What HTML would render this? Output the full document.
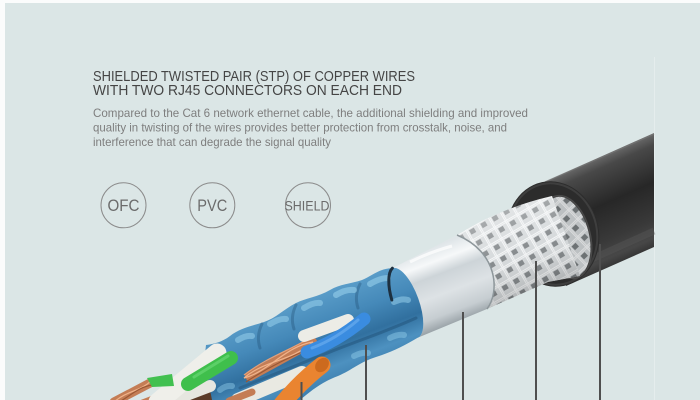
<!DOCTYPE html>
<html><head><meta charset="utf-8">
<style>
html,body{margin:0;padding:0;background:#dbe6e6;}
svg{display:block;}
</style></head>
<body>
<svg width="700" height="400" viewBox="0 0 700 400" xmlns="http://www.w3.org/2000/svg">
<defs>
 <linearGradient id="jg" gradientUnits="userSpaceOnUse" x1="596" y1="158" x2="642" y2="262">
  <stop offset="0" stop-color="#6a6a6a"/>
  <stop offset="0.1" stop-color="#484848"/>
  <stop offset="0.4" stop-color="#272727"/>
  <stop offset="0.7" stop-color="#393939"/>
  <stop offset="0.85" stop-color="#474747"/>
  <stop offset="1" stop-color="#242424"/>
 </linearGradient>
 <pattern id="bp" patternUnits="userSpaceOnUse" width="13" height="13" patternTransform="rotate(-30)">
  <rect width="13" height="13" fill="#d2d6d8"/>
  <rect x="5" y="5" width="5.5" height="5" fill="#7a7f82"/>
  <path d="M0 2H13M2 0V13M0 3.6H13M3.6 0V13" stroke="#f3f5f6" stroke-width="1"/>
 </pattern>
 <linearGradient id="bshade" gradientUnits="userSpaceOnUse" x1="505" y1="212" x2="540" y2="300">
  <stop offset="0" stop-color="#fff" stop-opacity="0.35"/>
  <stop offset="0.45" stop-color="#fff" stop-opacity="0.1"/>
  <stop offset="1" stop-color="#000" stop-opacity="0.25"/>
 </linearGradient>
 <linearGradient id="fg" gradientUnits="userSpaceOnUse" x1="425" y1="250" x2="453" y2="324">
  <stop offset="0" stop-color="#dfe5e8"/>
  <stop offset="0.18" stop-color="#f6f8f9"/>
  <stop offset="0.35" stop-color="#cdd4d8"/>
  <stop offset="0.6" stop-color="#dde2e5"/>
  <stop offset="0.85" stop-color="#c6cdd1"/>
  <stop offset="1" stop-color="#9aa3a8"/>
 </linearGradient>
 <linearGradient id="blg" gradientUnits="userSpaceOnUse" x1="300" y1="300" x2="335" y2="392">
  <stop offset="0" stop-color="#5a9dc9"/>
  <stop offset="0.3" stop-color="#4589b9"/>
  <stop offset="0.55" stop-color="#31709f"/>
  <stop offset="0.75" stop-color="#4d91c0"/>
  <stop offset="1" stop-color="#3778a8"/>
 </linearGradient>
</defs>

<!-- background & borders -->
<rect width="700" height="400" fill="#dbe6e6"/>
<rect x="0" y="0" width="700" height="3" fill="#fbfcfc"/>
<rect x="0" y="0" width="5" height="400" fill="#fbfcfc"/>
<line x1="654.5" y1="57" x2="654.5" y2="400" stroke="#e5eded" stroke-width="1"/>

<!-- text -->
<g font-family="'Liberation Sans', Arial, sans-serif">
 <text x="93" y="81" font-size="15" fill="#454545" textLength="322" lengthAdjust="spacingAndGlyphs">SHIELDED TWISTED PAIR (STP) OF COPPER WIRES</text>
 <text x="93" y="95" font-size="15" fill="#454545" textLength="309" lengthAdjust="spacingAndGlyphs">WITH TWO RJ45 CONNECTORS ON EACH END</text>
 <text x="93" y="117" font-size="12" fill="#7e7e7e" textLength="435" lengthAdjust="spacingAndGlyphs">Compared to the Cat 6 network ethernet cable, the additional shielding and improved</text>
 <text x="93" y="131.5" font-size="12" fill="#7e7e7e" textLength="414" lengthAdjust="spacingAndGlyphs">quality in twisting of the wires provides better protection from crosstalk, noise, and</text>
 <text x="93" y="146" font-size="12" fill="#7e7e7e" textLength="238" lengthAdjust="spacingAndGlyphs">interference that can degrade the signal quality</text>

 <circle cx="123.5" cy="205.3" r="22.5" fill="none" stroke="#8c8c8c" stroke-width="1"/>
 <circle cx="212.3" cy="205.3" r="22.5" fill="none" stroke="#8c8c8c" stroke-width="1"/>
 <circle cx="308" cy="205.3" r="22.5" fill="none" stroke="#8c8c8c" stroke-width="1"/>
 <text x="123.5" y="211" font-size="17" fill="#6b6b6b" text-anchor="middle" textLength="32" lengthAdjust="spacingAndGlyphs">OFC</text>
 <text x="212.3" y="211" font-size="17" fill="#6b6b6b" text-anchor="middle" textLength="30" lengthAdjust="spacingAndGlyphs">PVC</text>
 <text x="307" y="210.7" font-size="14" fill="#6b6b6b" text-anchor="middle" textLength="45" lengthAdjust="spacingAndGlyphs">SHIELD</text>
</g>

<!-- jacket -->
<path d="M540,184 L654,133 L654,247 L566,286 Z" fill="url(#jg)"/>
<path d="M545,182 L654,134" stroke="#777" stroke-width="1.5" opacity="0.7"/>
<path d="M585,262 L654,231" stroke="#595959" stroke-width="7" opacity="0.4"/>
<ellipse cx="553" cy="234" rx="46" ry="53" transform="rotate(-12 553 234)" fill="#2c2c2c"/>
<ellipse cx="553" cy="234" rx="44" ry="51" transform="rotate(-12 553 234)" fill="none" stroke="#3e3e3e" stroke-width="2"/>
<ellipse cx="566" cy="237" rx="24" ry="42" transform="rotate(-14 566 237)" fill="url(#bp)" stroke="#4a4a4a" stroke-width="2"/>
<ellipse cx="566" cy="237" rx="24" ry="42" transform="rotate(-14 566 237)" fill="#000" opacity="0.1"/>

<!-- braid -->
<path d="M457,235 Q500,208 552,196 L580,276 L548,282 L487,309 C500,292 498,252 457,235 Z" fill="url(#bp)"/>
<path d="M457,235 Q500,208 552,196 L580,276 L548,282 L487,309 C500,292 498,252 457,235 Z" fill="url(#bshade)"/>

<!-- foil -->
<path d="M392.35,268.2 L457,235 C498,252 500,292 487,309 L417.65,337.8 A14 37 -20 0 0 392.35,268.2 Z" fill="url(#fg)"/>
<path d="M457,235 C498,252 500,292 487,309" fill="none" stroke="#8e979b" stroke-width="1.5"/>
<path d="M410,262 Q430,252 452,246" stroke="#ffffff" stroke-width="3" opacity="0.7" fill="none"/>

<!-- blue twisted pairs -->
<path d="M392.35,268.2 C380,268 372,276 362,280 C350,284 340,284 330,290 C318,297 306,298 296,303 C284,309 276,318 264,322 C252,326 240,328 230,336 C222,342 214,344 206,345 L203,372 L209,400 L300,400 C312,390 322,382 338,376 C352,370 360,362 376,357 C392,352 404,346 417.65,337.8 A14 37 -20 0 0 392.35,268.2 Z" fill="url(#blg)"/>
<g fill="none" stroke-linecap="round">
 <path d="M416,318 C390,330 360,340 330,352 C300,364 270,376 240,388" stroke="#1f4e74" stroke-width="3" opacity="0.45"/>
 <path d="M360,284 q-6,12 -2,24" stroke="#1f4e74" stroke-width="3" opacity="0.35"/>
 <path d="M296,305 q-6,12 -2,24" stroke="#1f4e74" stroke-width="3" opacity="0.35"/>
 <path d="M262,324 q-6,12 -2,24" stroke="#1f4e74" stroke-width="3" opacity="0.35"/>
 <path d="M370,284 q10,-6 18,-6" stroke="#9dd5ef" stroke-width="6" opacity="0.55"/>
 <path d="M336,295 q10,-6 18,-5" stroke="#9dd5ef" stroke-width="6" opacity="0.55"/>
 <path d="M304,308 q10,-6 16,-5" stroke="#9dd5ef" stroke-width="6" opacity="0.5"/>
 <path d="M270,324 q10,-6 16,-5" stroke="#9dd5ef" stroke-width="6" opacity="0.5"/>
 <path d="M238,340 q8,-5 14,-4" stroke="#9dd5ef" stroke-width="6" opacity="0.5"/>
 <path d="M394,302 q8,-4 14,-2" stroke="#9dd5ef" stroke-width="6" opacity="0.5"/>
 <path d="M390,338 q8,-4 14,-3" stroke="#92cfeb" stroke-width="6" opacity="0.45"/>
 <path d="M354,356 q8,-4 14,-3" stroke="#92cfeb" stroke-width="6" opacity="0.45"/>
 <path d="M222,362 q6,-5 12,-4" stroke="#92cfeb" stroke-width="6" opacity="0.45"/>
 <path d="M220,390 q6,-5 12,-4" stroke="#92cfeb" stroke-width="6" opacity="0.45"/>
 <path d="M392.35,268.2 A14 37 -20 0 0 391.8,300" stroke="#1d3040" stroke-width="3"/>
</g>

<!-- blue/white pair -->
<path d="M250,376 L312,342" stroke="#c47d55" stroke-width="10" stroke-linecap="round" fill="none"/>
<g fill="none" stroke-width="1.2">
 <path d="M244,378 C265,360 290,362 313,342" stroke="#f0b38a"/>
 <path d="M244,378 C268,372 286,346 313,342" stroke="#f0b38a"/>
 <path d="M246,382 C270,366 292,356 314,347" stroke="#9a5733"/>
 <path d="M244,375 C266,358 290,350 310,338" stroke="#e6a078"/>
</g>
<path d="M304,336 L348,320" stroke="#ecece6" stroke-width="12" stroke-linecap="round"/>
<path d="M307,352 Q336,342 364,319" stroke="#3a8ce0" stroke-width="13" stroke-linecap="round" fill="none"/>
<path d="M312,348 Q336,339 358,320" stroke="#6fb0f0" stroke-width="3" stroke-linecap="round" fill="none" opacity="0.6"/>

<!-- orange/white pair -->
<path d="M238,400 L302,373" stroke="#e9e9e2" stroke-width="14" stroke-linecap="round"/>
<path d="M229,401 L252,392" stroke="#c47d55" stroke-width="7" stroke-linecap="round"/>
<path d="M282,404 Q300,382 322,365" stroke="#ea8430" stroke-width="17" stroke-linecap="round" fill="none"/>
<ellipse cx="322" cy="365" rx="6" ry="8" transform="rotate(40 322 365)" fill="#cc6a1e"/>

<!-- green/white pair -->
<path d="M114,402 L152,382" stroke="#c47d55" stroke-width="9" stroke-linecap="round"/>
<g fill="none" stroke-width="1.2">
 <path d="M114,402 C128,390 140,392 152,380" stroke="#f0b38a"/>
 <path d="M116,404 C130,396 140,386 153,385" stroke="#9a5733"/>
</g>
<path d="M140,404 L166,394" stroke="#c47d55" stroke-width="7" stroke-linecap="round"/>
<path d="M193,396 L210,390 L212,400 L190,400 Z" fill="#5a3a28"/>
<path d="M168,402 L210,386" stroke="#e6e6e0" stroke-width="12" stroke-linecap="round"/>
<path d="M158,402 L217,353" stroke="#efefea" stroke-width="19" stroke-linecap="round"/>
<path d="M188,384 L231,358" stroke="#3fbf4c" stroke-width="14" stroke-linecap="round"/>
<path d="M194,377 L228,356" stroke="#6fdc79" stroke-width="3" stroke-linecap="round" opacity="0.6"/>
<path d="M147,378 L172,374 L174,386 L152,387 Z" fill="#41c050"/>

<!-- leader lines -->
<path d="M301.5,382 V400 M366,345 V400 M463,312 V400 M536,261 V400 M600,244 V400" stroke="#4f4f4f" stroke-width="2" fill="none"/>
</svg>
</body></html>
